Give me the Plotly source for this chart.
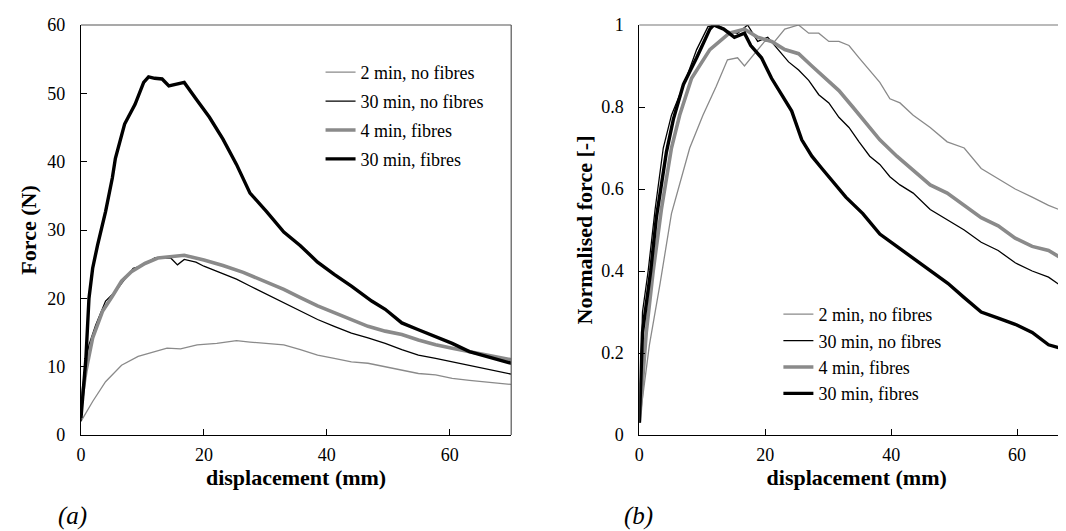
import plotly.graph_objects as go

# ---------------- data: panel (a) Force (N) vs displacement (mm) ----------------
series_names = ["2 min, no fibres", "30 min, no fibres", "4 min, fibres", "30 min, fibres"]

a_x_2min = [0, 1.9, 4.0, 6.6, 9.3, 12, 14, 16.2, 18.9, 22.1, 25.3, 27.5, 30.2, 33, 35.7, 38.5,
            41.2, 44, 46.7, 49.5, 52.2, 54.9, 57.7, 60.4, 63.2, 65.9, 70]
a_y_2min = [2.0, 4.9, 7.8, 10.2, 11.5, 12.2, 12.7, 12.6, 13.2, 13.4, 13.8, 13.6, 13.4, 13.2, 12.5, 11.7,
            11.2, 10.7, 10.5, 10.0, 9.5, 9.0, 8.8, 8.3, 8.0, 7.8, 7.4]

a_x_30nf = [0, 0.5, 1.3, 2.4, 4.0, 5.6, 7.2, 8.5, 9.8, 12, 14.6, 15.7, 16.8, 18.7, 20, 23.1, 25.3,
            27.5, 30.2, 33, 35.7, 38.5, 41.2, 44, 46.7, 49.5, 52.2, 54.9, 57.7, 60.4, 63.2, 65.9, 70]
a_y_30nf = [2.0, 8.8, 13.2, 16.1, 19.6, 21.0, 22.9, 24.4, 24.7, 25.9, 25.9, 24.9, 25.7, 25.3, 24.7, 23.6, 22.8,
            21.8, 20.6, 19.4, 18.1, 16.9, 15.9, 14.9, 14.2, 13.4, 12.5, 11.7, 11.2, 10.7, 10.2, 9.75, 8.9]

a_x_4f = [0, 0.8, 1.9, 3.5, 5.1, 6.6, 8.2, 10.4, 12.5, 14.6, 16.8, 20, 23.1, 26.4, 28.6, 30.8, 33,
          35.7, 38.5, 41.2, 44, 46.7, 49.5, 52.2, 54.9, 57.7, 60.4, 63.2, 65.9, 70]
a_y_4f = [4.4, 9.3, 14.2, 18.1, 20.3, 22.5, 23.9, 25.1, 25.9, 26.1, 26.3, 25.6, 24.8, 23.8, 23.0, 22.1, 21.3,
          20.1, 18.9, 17.9, 16.9, 15.9, 15.2, 14.7, 13.9, 13.2, 12.7, 12.2, 11.7, 11.0]

a_x_30f = [0, 0.8, 1.3, 1.9, 2.7, 4.0, 5.1, 5.6, 7.1, 8.8, 10.2, 11, 12, 13.2, 14.3, 15.5, 16.8, 18.7,
           20.9, 23.1, 25.3, 27.5, 30.2, 33, 35.7, 38.5, 41.2, 44, 47.3, 49.5, 52.2, 54.9, 58.2, 60.4,
           63.2, 65.9, 70]
a_y_30f = [2.5, 11.2, 20, 24.4, 27.8, 32.7, 37.6, 40.5, 45.5, 48.4, 51.6, 52.4, 52.2, 52.1, 51.1, 51.4, 51.6, 49.2,
           46.5, 43.3, 39.6, 35.4, 32.7, 29.7, 27.7, 25.3, 23.5, 21.8, 19.6, 18.4, 16.4, 15.4, 14.2, 13.4,
           12.2, 11.5, 10.5]

# ---------------- data: panel (b) Normalised force vs displacement ----------------
b_x_2min = [0, 1.6, 3.3, 5.1, 8.0, 10.1, 12.2, 14.0, 15.6, 16.7, 18.3, 19.9, 21.5, 23.1, 25.3, 26.9,
            28.5, 30.1, 31.7, 33.3, 34.9, 36.6, 38.2, 39.8, 41.4, 43.5, 46.2, 48.9, 51.6, 54.3, 57,
            59.7, 62.4, 65, 68.3, 70]
b_y_2min = [0.03, 0.22, 0.37, 0.54, 0.70, 0.78, 0.85, 0.915, 0.92, 0.90, 0.93, 0.96, 0.96, 0.99, 1.0, 0.98,
            0.98, 0.96, 0.96, 0.95, 0.92, 0.89, 0.86, 0.82, 0.81, 0.78, 0.75, 0.715, 0.70, 0.65, 0.625,
            0.60, 0.58, 0.56, 0.54, 0.53]

b_x_30nf = [0, 0.5, 1.4, 2.5, 3.8, 5.1, 7.2, 9.1, 10.9, 12.4, 14, 15.6, 17.2, 18.8, 20.4, 22, 23.7,
            25.3, 26.9, 28.5, 30.1, 31.7, 33.3, 34.9, 36.6, 38.2, 39.8, 41.4, 43.5, 46.2, 48.9, 51.6,
            54.3, 57, 59.7, 62.4, 65, 68.3, 70]
b_y_30nf = [0.03, 0.30, 0.40, 0.55, 0.70, 0.78, 0.86, 0.94, 0.996, 1.0, 0.985, 0.98, 1.0, 0.96, 0.97, 0.94, 0.91,
            0.89, 0.865, 0.83, 0.81, 0.775, 0.75, 0.715, 0.68, 0.66, 0.63, 0.61, 0.59, 0.55, 0.525, 0.50,
            0.47, 0.45, 0.42, 0.40, 0.385, 0.35, 0.34]

b_x_4f = [0, 1.1, 2.2, 3.5, 5.1, 6.4, 8.3, 11.2, 14.3, 16.7, 18.8, 21, 23.1, 25.3, 27.4, 29.6, 31.7,
          33.9, 36, 38.2, 40.9, 43.5, 46.2, 48.9, 51.6, 54.3, 57, 59.7, 62.4, 65, 68.3, 70]
b_y_4f = [0.03, 0.25, 0.40, 0.55, 0.70, 0.78, 0.87, 0.94, 0.98, 0.99, 0.97, 0.96, 0.94, 0.93, 0.90, 0.87, 0.84,
          0.80, 0.76, 0.72, 0.68, 0.645, 0.61, 0.59, 0.56, 0.53, 0.51, 0.48, 0.46, 0.45, 0.42, 0.41]

b_x_30f = [0, 0.5, 1.8, 2.7, 4.3, 5.4, 7.0, 9.1, 11.2, 11.8, 13.4, 15.1, 16.7, 17.7, 19.4, 21, 22.6,
           24.2, 25.8, 27.4, 29, 30.6, 32.8, 35.5, 38.2, 40.9, 43.6, 46.3, 49, 51.6, 54.3, 57, 59.7,
           62.4, 65, 67.2, 68.7, 70]
b_y_30f = [0.03, 0.25, 0.40, 0.53, 0.69, 0.77, 0.855, 0.92, 0.99, 1.0, 0.99, 0.97, 0.98, 0.95, 0.92, 0.87, 0.83,
           0.79, 0.72, 0.68, 0.65, 0.62, 0.58, 0.54, 0.49, 0.46, 0.43, 0.40, 0.37, 0.335, 0.30, 0.285, 0.27,
           0.25, 0.22, 0.21, 0.20, 0.195]

a_xticks = [0, 20, 40, 60]
a_yticks = [0, 10, 20, 30, 40, 50, 60]
b_xticks = [0, 20, 40, 60]
b_yticks = [0, 0.2, 0.4, 0.6, 0.8, 1]

# ---------------- styles ----------------
GRAY = "#8a8a8a"
styles = [
    dict(color=GRAY, width=1.3),
    dict(color="#000000", width=1.3),
    dict(color=GRAY, width=3.6),
    dict(color="#000000", width=3.4),
]
SERIF = "Liberation Serif, Times New Roman, Times, serif"

fig = go.Figure()

a_data = [(a_x_2min, a_y_2min), (a_x_30nf, a_y_30nf), (a_x_4f, a_y_4f), (a_x_30f, a_y_30f)]
b_data = [(b_x_2min, b_y_2min), (b_x_30nf, b_y_30nf), (b_x_4f, b_y_4f), (b_x_30f, b_y_30f)]

for i, (name, (xs, ys), st) in enumerate(zip(series_names, a_data, styles)):
    fig.add_trace(go.Scatter(x=xs, y=ys, mode="lines", name=name, line=st,
                             xaxis="x", yaxis="y", legend="legend", legendgroup=f"a{i}"))
for name, (xs, ys), st in zip(series_names, b_data, styles):
    fig.add_trace(go.Scatter(x=xs, y=ys, mode="lines", name=name, line=st,
                             xaxis="x2", yaxis="y2", legend="legend2"))

W, H = 1066, 531
PLOT_TOP, PLOT_BOT = 17, 427
PH = PLOT_BOT - PLOT_TOP
LEFT0 = 68.3
LEFT1 = LEFT0 + 123.5 * 3.5
RIGHT0 = 629.3
RIGHT_RANGE = (W - RIGHT0) / (126.5 / 20)

tickfont = dict(family=SERIF, size=18, color="#000")
titlefont = dict(family=SERIF, size=22, color="#000", weight="bold")

common_x = dict(showline=True, linecolor="#000", linewidth=1.2, ticks="inside", ticklen=6,
                tickcolor="#000", showgrid=False, zeroline=False, tickfont=tickfont,
                ticklabelstandoff=3)
common_y = dict(showline=True, linecolor="#000", linewidth=1.2, ticks="inside", ticklen=6,
                tickcolor="#000", showgrid=False, zeroline=False, tickfont=tickfont,
                ticklabelstandoff=11)

fig.update_layout(
    width=W, height=H,
    margin=dict(l=0, r=0, t=PLOT_TOP, b=H - PLOT_BOT),
    paper_bgcolor="white", plot_bgcolor="white",
    font=dict(family=SERIF, color="#000"),
    xaxis=dict(domain=[LEFT0 / W, LEFT1 / W], range=[0, 70], tickvals=a_xticks,
               title=dict(text="displacement (mm)", font=titlefont, standoff=2), **common_x),
    yaxis=dict(domain=[0, 1], range=[0, 60], tickvals=a_yticks,
               title=dict(text="Force (N)", font=titlefont, standoff=4), **common_y),
    xaxis2=dict(domain=[RIGHT0 / W, 1.0], range=[0, RIGHT_RANGE], tickvals=b_xticks, anchor="y2",
                title=dict(text="displacement (mm)", font=titlefont, standoff=2), **common_x),
    yaxis2=dict(domain=[0, 1], range=[0, 1], tickvals=b_yticks, anchor="x2",
                title=dict(text="Normalised force [-]", font=titlefont, standoff=2), **common_y),
    legend=dict(x=309 / W, xanchor="left", y=(PLOT_BOT - 46) / PH, yanchor="top",
                font=dict(family=SERIF, size=18, color="#000"), bgcolor="rgba(0,0,0,0)",
                itemwidth=30, traceorder="grouped", tracegroupgap=2.5),
    legend2=dict(x=769 / W, xanchor="left", y=(PLOT_BOT - 288) / PH, yanchor="top",
                 font=dict(family=SERIF, size=18, color="#000"), bgcolor="rgba(0,0,0,0)",
                 itemwidth=30, tracegroupgap=0),
    showlegend=True,
)

# top / right frame lines (lighter, as in the reference)
fig.add_shape(type="line", xref="x domain", yref="y domain", x0=0, x1=1, y0=1, y1=1,
              line=dict(color="#555", width=1.2))
fig.add_shape(type="line", xref="x domain", yref="y domain", x0=1, x1=1, y0=0, y1=1,
              line=dict(color="#555", width=1.2))
fig.add_shape(type="line", xref="x2 domain", yref="y2 domain", x0=0, x1=1, y0=1, y1=1,
              line=dict(color="#777", width=1.2))

# panel labels
for txt, xpx in [("(a)", 60), ("(b)", 628)]:
    fig.add_annotation(text=txt, xref="paper", yref="paper", x=xpx / W, y=(PLOT_BOT - 508) / PH,
                       xanchor="center", yanchor="middle", showarrow=False,
                       font=dict(family=SERIF, size=25, color="#000", style="italic"))

fig.write_html("out.html")
